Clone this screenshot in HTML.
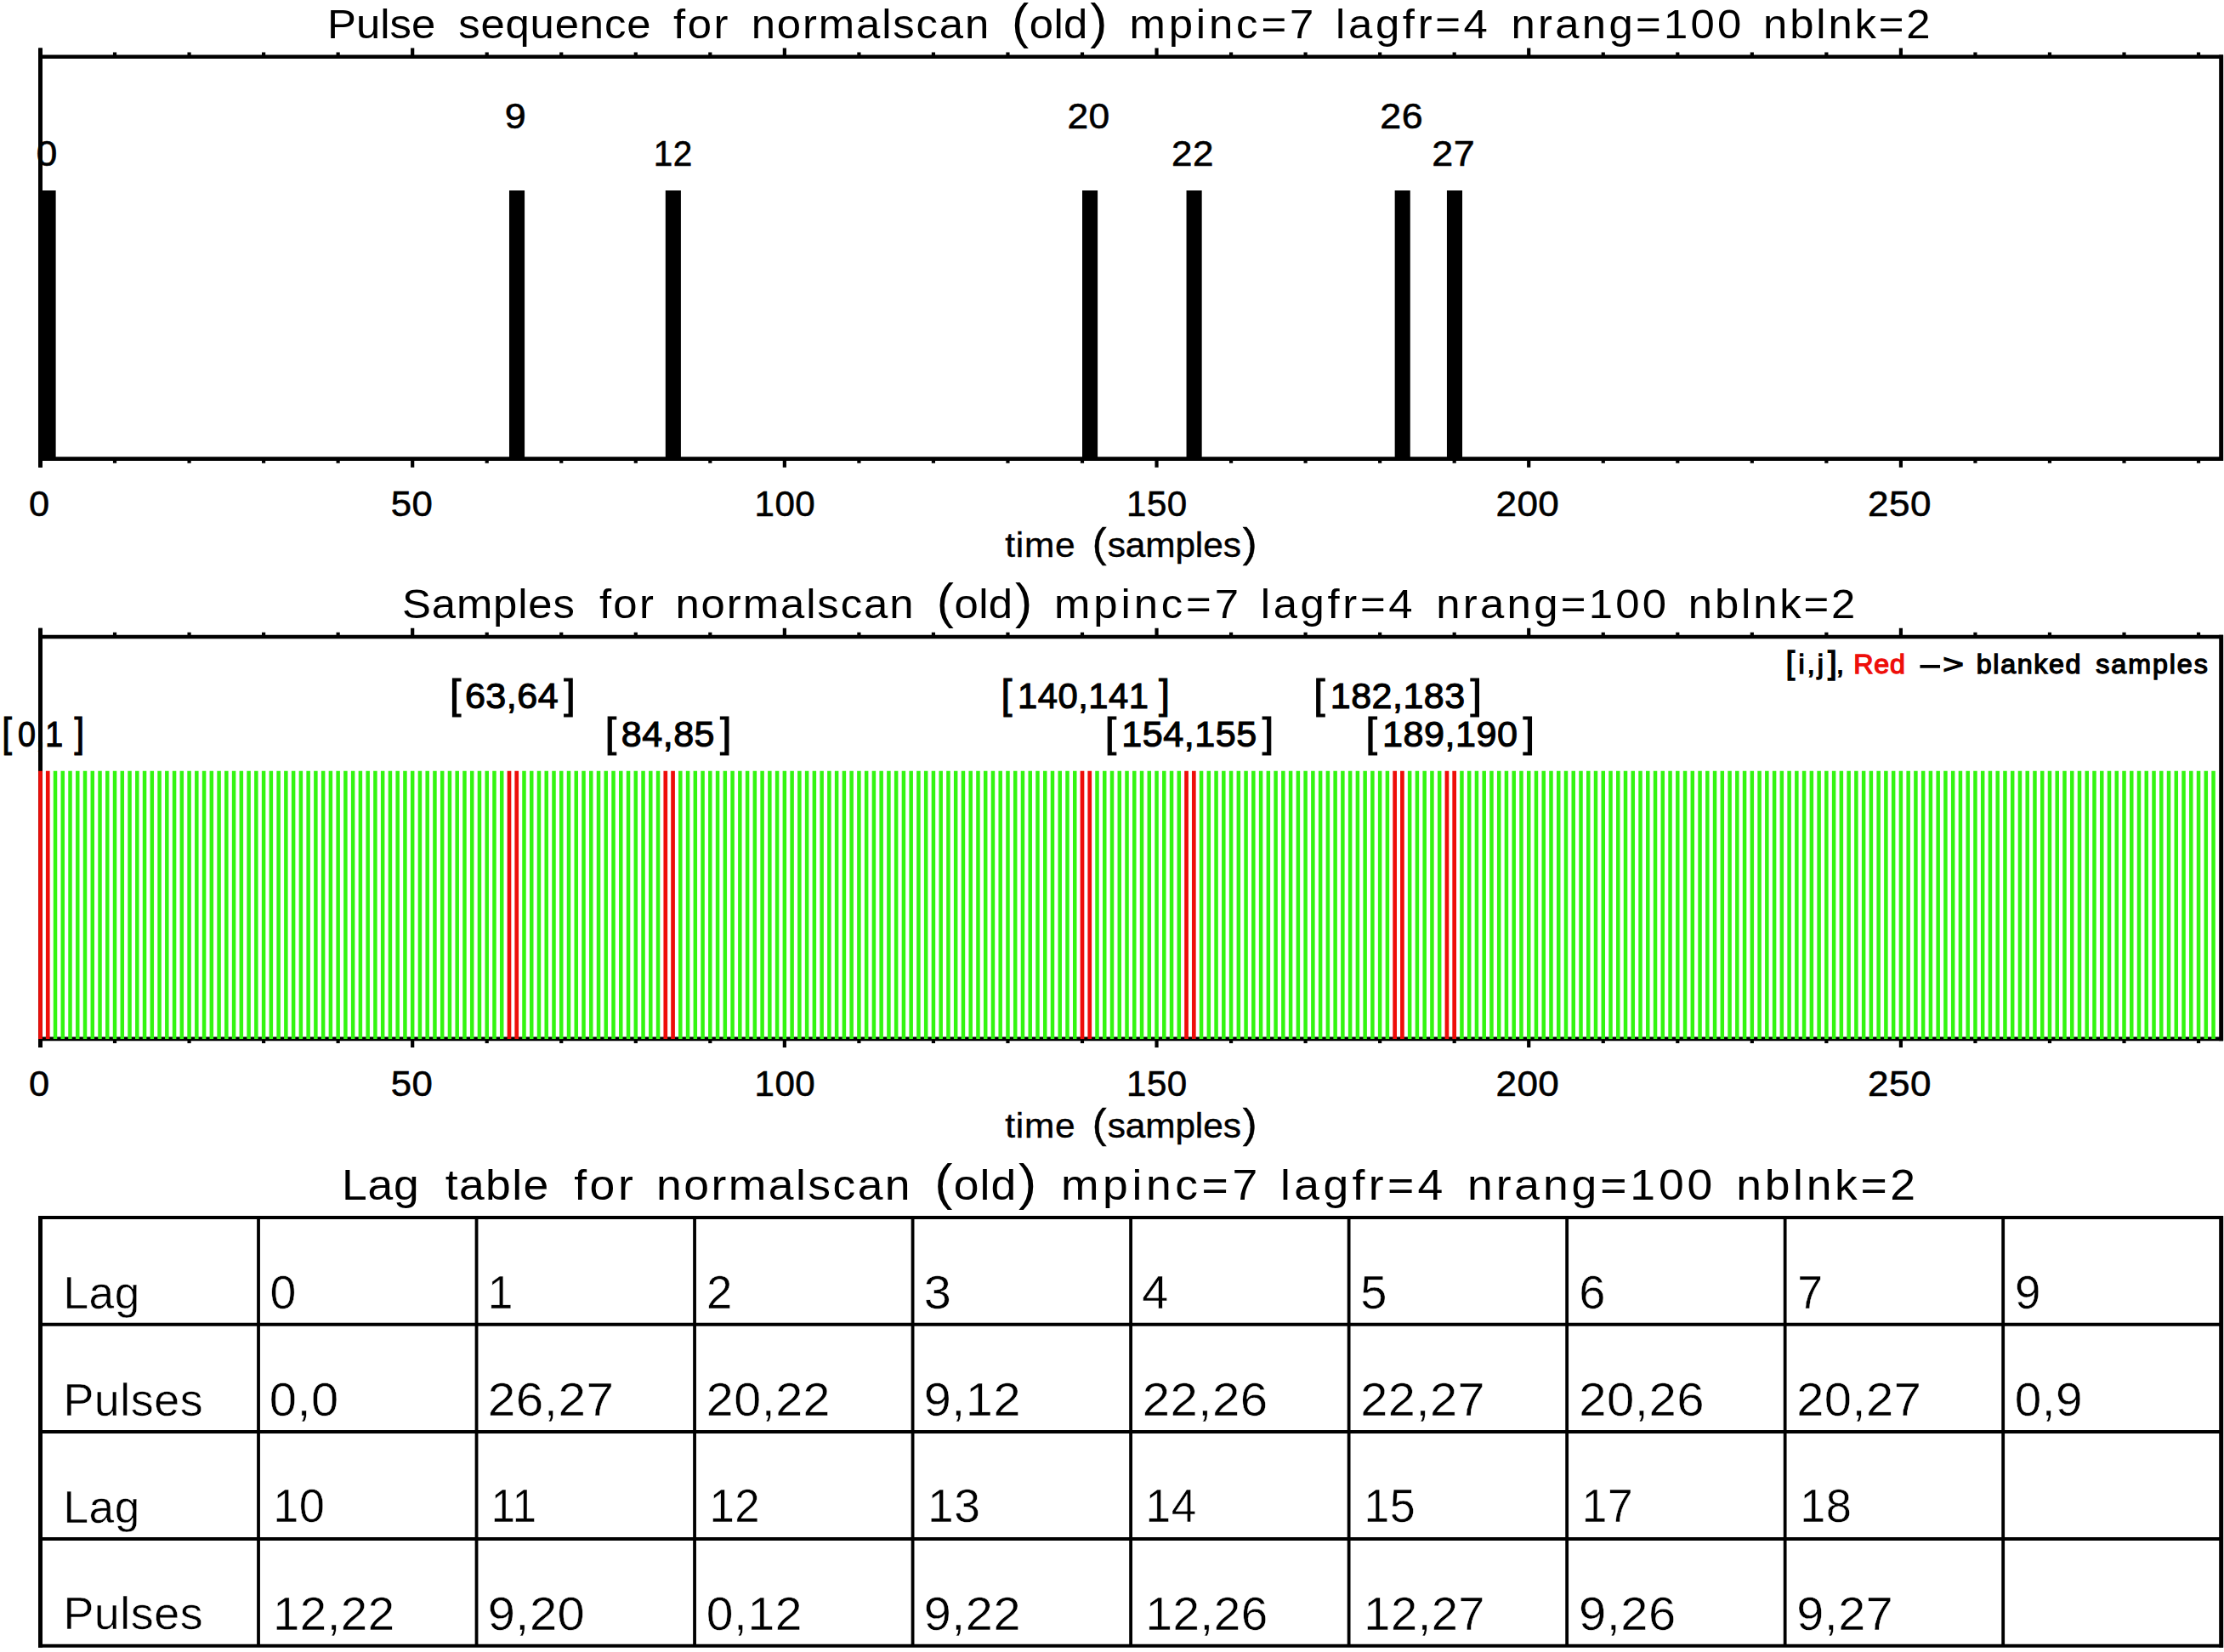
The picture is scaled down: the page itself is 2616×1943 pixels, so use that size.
<!DOCTYPE html>
<html lang="en">
<head>
<meta charset="utf-8">
<title>Pulse sequence, samples and lag table for normalscan (old)</title>
<style>
html,body{margin:0;padding:0;background:#fff;}
body{width:2616px;height:1943px;overflow:hidden;font-family:"Liberation Sans", sans-serif;}
svg{display:block;}
text{white-space:pre;}
</style>
</head>
<body>
<svg width="2616" height="1943" viewBox="0 0 2616 1943">
<rect width="2616" height="1943" fill="#fff"/>
<g stroke="#000" fill="none">
<path d="M45 66.75H2615M45 539.6H2615" stroke-width="4.6"/>
<path d="M47.5 56.55V549.8M2612.7 64.45V541.9" stroke-width="5"/>
<path d="M47.5 66.75v-10.2M47.5 539.6v10.2M135.04 66.75v-5.2M135.04 539.6v5.2M222.57 66.75v-5.2M222.57 539.6v5.2M310.11 66.75v-5.2M310.11 539.6v5.2M397.64 66.75v-5.2M397.64 539.6v5.2M485.18 66.75v-10.2M485.18 539.6v10.2M572.72 66.75v-5.2M572.72 539.6v5.2M660.25 66.75v-5.2M660.25 539.6v5.2M747.79 66.75v-5.2M747.79 539.6v5.2M835.32 66.75v-5.2M835.32 539.6v5.2M922.86 66.75v-10.2M922.86 539.6v10.2M1010.4 66.75v-5.2M1010.4 539.6v5.2M1097.93 66.75v-5.2M1097.93 539.6v5.2M1185.47 66.75v-5.2M1185.47 539.6v5.2M1273 66.75v-5.2M1273 539.6v5.2M1360.54 66.75v-10.2M1360.54 539.6v10.2M1448.08 66.75v-5.2M1448.08 539.6v5.2M1535.61 66.75v-5.2M1535.61 539.6v5.2M1623.15 66.75v-5.2M1623.15 539.6v5.2M1710.68 66.75v-5.2M1710.68 539.6v5.2M1798.22 66.75v-10.2M1798.22 539.6v10.2M1885.76 66.75v-5.2M1885.76 539.6v5.2M1973.29 66.75v-5.2M1973.29 539.6v5.2M2060.83 66.75v-5.2M2060.83 539.6v5.2M2148.36 66.75v-5.2M2148.36 539.6v5.2M2235.9 66.75v-10.2M2235.9 539.6v10.2M2323.44 66.75v-5.2M2323.44 539.6v5.2M2410.97 66.75v-5.2M2410.97 539.6v5.2M2498.51 66.75v-5.2M2498.51 539.6v5.2M2586.04 66.75v-5.2M2586.04 539.6v5.2" stroke-width="4.2"/>
<path d="M45 749.05H2615M45 1221.9H2615" stroke-width="4.6"/>
<path d="M47.5 738.85V1232.1M2612.7 746.75V1224.2" stroke-width="5"/>
<path d="M47.5 749.05v-10.2M47.5 1221.9v10.2M135.04 749.05v-5.2M135.04 1221.9v5.2M222.57 749.05v-5.2M222.57 1221.9v5.2M310.11 749.05v-5.2M310.11 1221.9v5.2M397.64 749.05v-5.2M397.64 1221.9v5.2M485.18 749.05v-10.2M485.18 1221.9v10.2M572.72 749.05v-5.2M572.72 1221.9v5.2M660.25 749.05v-5.2M660.25 1221.9v5.2M747.79 749.05v-5.2M747.79 1221.9v5.2M835.32 749.05v-5.2M835.32 1221.9v5.2M922.86 749.05v-10.2M922.86 1221.9v10.2M1010.4 749.05v-5.2M1010.4 1221.9v5.2M1097.93 749.05v-5.2M1097.93 1221.9v5.2M1185.47 749.05v-5.2M1185.47 1221.9v5.2M1273 749.05v-5.2M1273 1221.9v5.2M1360.54 749.05v-10.2M1360.54 1221.9v10.2M1448.08 749.05v-5.2M1448.08 1221.9v5.2M1535.61 749.05v-5.2M1535.61 1221.9v5.2M1623.15 749.05v-5.2M1623.15 1221.9v5.2M1710.68 749.05v-5.2M1710.68 1221.9v5.2M1798.22 749.05v-10.2M1798.22 1221.9v10.2M1885.76 749.05v-5.2M1885.76 1221.9v5.2M1973.29 749.05v-5.2M1973.29 1221.9v5.2M2060.83 749.05v-5.2M2060.83 1221.9v5.2M2148.36 749.05v-5.2M2148.36 1221.9v5.2M2235.9 749.05v-10.2M2235.9 1221.9v10.2M2323.44 749.05v-5.2M2323.44 1221.9v5.2M2410.97 749.05v-5.2M2410.97 1221.9v5.2M2498.51 749.05v-5.2M2498.51 1221.9v5.2M2586.04 749.05v-5.2M2586.04 1221.9v5.2" stroke-width="4.2"/>
</g>
<path d="M45 224.1H65.61V539.6H45ZM598.98 224.1H617.08V539.6H598.98ZM782.8 224.1H800.91V539.6H782.8ZM1273 224.1H1291.11V539.6H1273ZM1395.55 224.1H1413.66V539.6H1395.55ZM1640.66 224.1H1658.76V539.6H1640.66ZM1701.93 224.1H1720.04V539.6H1701.93Z" fill="#000"/>
<path d="M65.01 906.8V1221.9M73.76 906.8V1221.9M82.51 906.8V1221.9M91.27 906.8V1221.9M100.02 906.8V1221.9M108.78 906.8V1221.9M117.53 906.8V1221.9M126.28 906.8V1221.9M135.04 906.8V1221.9M143.79 906.8V1221.9M152.54 906.8V1221.9M161.3 906.8V1221.9M170.05 906.8V1221.9M178.8 906.8V1221.9M187.56 906.8V1221.9M196.31 906.8V1221.9M205.06 906.8V1221.9M213.82 906.8V1221.9M222.57 906.8V1221.9M231.33 906.8V1221.9M240.08 906.8V1221.9M248.83 906.8V1221.9M257.59 906.8V1221.9M266.34 906.8V1221.9M275.09 906.8V1221.9M283.85 906.8V1221.9M292.6 906.8V1221.9M301.35 906.8V1221.9M310.11 906.8V1221.9M318.86 906.8V1221.9M327.62 906.8V1221.9M336.37 906.8V1221.9M345.12 906.8V1221.9M353.88 906.8V1221.9M362.63 906.8V1221.9M371.38 906.8V1221.9M380.14 906.8V1221.9M388.89 906.8V1221.9M397.64 906.8V1221.9M406.4 906.8V1221.9M415.15 906.8V1221.9M423.9 906.8V1221.9M432.66 906.8V1221.9M441.41 906.8V1221.9M450.17 906.8V1221.9M458.92 906.8V1221.9M467.67 906.8V1221.9M476.43 906.8V1221.9M485.18 906.8V1221.9M493.93 906.8V1221.9M502.69 906.8V1221.9M511.44 906.8V1221.9M520.19 906.8V1221.9M528.95 906.8V1221.9M537.7 906.8V1221.9M546.46 906.8V1221.9M555.21 906.8V1221.9M563.96 906.8V1221.9M572.72 906.8V1221.9M581.47 906.8V1221.9M590.22 906.8V1221.9M616.48 906.8V1221.9M625.24 906.8V1221.9M633.99 906.8V1221.9M642.74 906.8V1221.9M651.5 906.8V1221.9M660.25 906.8V1221.9M669.01 906.8V1221.9M677.76 906.8V1221.9M686.51 906.8V1221.9M695.27 906.8V1221.9M704.02 906.8V1221.9M712.77 906.8V1221.9M721.53 906.8V1221.9M730.28 906.8V1221.9M739.03 906.8V1221.9M747.79 906.8V1221.9M756.54 906.8V1221.9M765.3 906.8V1221.9M774.05 906.8V1221.9M800.31 906.8V1221.9M809.06 906.8V1221.9M817.82 906.8V1221.9M826.57 906.8V1221.9M835.32 906.8V1221.9M844.08 906.8V1221.9M852.83 906.8V1221.9M861.58 906.8V1221.9M870.34 906.8V1221.9M879.09 906.8V1221.9M887.85 906.8V1221.9M896.6 906.8V1221.9M905.35 906.8V1221.9M914.11 906.8V1221.9M922.86 906.8V1221.9M931.61 906.8V1221.9M940.37 906.8V1221.9M949.12 906.8V1221.9M957.87 906.8V1221.9M966.63 906.8V1221.9M975.38 906.8V1221.9M984.14 906.8V1221.9M992.89 906.8V1221.9M1001.64 906.8V1221.9M1010.4 906.8V1221.9M1019.15 906.8V1221.9M1027.9 906.8V1221.9M1036.66 906.8V1221.9M1045.41 906.8V1221.9M1054.16 906.8V1221.9M1062.92 906.8V1221.9M1071.67 906.8V1221.9M1080.42 906.8V1221.9M1089.18 906.8V1221.9M1097.93 906.8V1221.9M1106.69 906.8V1221.9M1115.44 906.8V1221.9M1124.19 906.8V1221.9M1132.95 906.8V1221.9M1141.7 906.8V1221.9M1150.45 906.8V1221.9M1159.21 906.8V1221.9M1167.96 906.8V1221.9M1176.71 906.8V1221.9M1185.47 906.8V1221.9M1194.22 906.8V1221.9M1202.98 906.8V1221.9M1211.73 906.8V1221.9M1220.48 906.8V1221.9M1229.24 906.8V1221.9M1237.99 906.8V1221.9M1246.74 906.8V1221.9M1255.5 906.8V1221.9M1264.25 906.8V1221.9M1290.51 906.8V1221.9M1299.26 906.8V1221.9M1308.02 906.8V1221.9M1316.77 906.8V1221.9M1325.53 906.8V1221.9M1334.28 906.8V1221.9M1343.03 906.8V1221.9M1351.79 906.8V1221.9M1360.54 906.8V1221.9M1369.29 906.8V1221.9M1378.05 906.8V1221.9M1386.8 906.8V1221.9M1413.06 906.8V1221.9M1421.82 906.8V1221.9M1430.57 906.8V1221.9M1439.32 906.8V1221.9M1448.08 906.8V1221.9M1456.83 906.8V1221.9M1465.58 906.8V1221.9M1474.34 906.8V1221.9M1483.09 906.8V1221.9M1491.84 906.8V1221.9M1500.6 906.8V1221.9M1509.35 906.8V1221.9M1518.1 906.8V1221.9M1526.86 906.8V1221.9M1535.61 906.8V1221.9M1544.37 906.8V1221.9M1553.12 906.8V1221.9M1561.87 906.8V1221.9M1570.63 906.8V1221.9M1579.38 906.8V1221.9M1588.13 906.8V1221.9M1596.89 906.8V1221.9M1605.64 906.8V1221.9M1614.39 906.8V1221.9M1623.15 906.8V1221.9M1631.9 906.8V1221.9M1658.16 906.8V1221.9M1666.92 906.8V1221.9M1675.67 906.8V1221.9M1684.42 906.8V1221.9M1693.18 906.8V1221.9M1719.44 906.8V1221.9M1728.19 906.8V1221.9M1736.94 906.8V1221.9M1745.7 906.8V1221.9M1754.45 906.8V1221.9M1763.21 906.8V1221.9M1771.96 906.8V1221.9M1780.71 906.8V1221.9M1789.47 906.8V1221.9M1798.22 906.8V1221.9M1806.97 906.8V1221.9M1815.73 906.8V1221.9M1824.48 906.8V1221.9M1833.23 906.8V1221.9M1841.99 906.8V1221.9M1850.74 906.8V1221.9M1859.5 906.8V1221.9M1868.25 906.8V1221.9M1877 906.8V1221.9M1885.76 906.8V1221.9M1894.51 906.8V1221.9M1903.26 906.8V1221.9M1912.02 906.8V1221.9M1920.77 906.8V1221.9M1929.52 906.8V1221.9M1938.28 906.8V1221.9M1947.03 906.8V1221.9M1955.78 906.8V1221.9M1964.54 906.8V1221.9M1973.29 906.8V1221.9M1982.05 906.8V1221.9M1990.8 906.8V1221.9M1999.55 906.8V1221.9M2008.31 906.8V1221.9M2017.06 906.8V1221.9M2025.81 906.8V1221.9M2034.57 906.8V1221.9M2043.32 906.8V1221.9M2052.07 906.8V1221.9M2060.83 906.8V1221.9M2069.58 906.8V1221.9M2078.34 906.8V1221.9M2087.09 906.8V1221.9M2095.84 906.8V1221.9M2104.6 906.8V1221.9M2113.35 906.8V1221.9M2122.1 906.8V1221.9M2130.86 906.8V1221.9M2139.61 906.8V1221.9M2148.36 906.8V1221.9M2157.12 906.8V1221.9M2165.87 906.8V1221.9M2174.62 906.8V1221.9M2183.38 906.8V1221.9M2192.13 906.8V1221.9M2200.89 906.8V1221.9M2209.64 906.8V1221.9M2218.39 906.8V1221.9M2227.15 906.8V1221.9M2235.9 906.8V1221.9M2244.65 906.8V1221.9M2253.41 906.8V1221.9M2262.16 906.8V1221.9M2270.91 906.8V1221.9M2279.67 906.8V1221.9M2288.42 906.8V1221.9M2297.18 906.8V1221.9M2305.93 906.8V1221.9M2314.68 906.8V1221.9M2323.44 906.8V1221.9M2332.19 906.8V1221.9M2340.94 906.8V1221.9M2349.7 906.8V1221.9M2358.45 906.8V1221.9M2367.2 906.8V1221.9M2375.96 906.8V1221.9M2384.71 906.8V1221.9M2393.46 906.8V1221.9M2402.22 906.8V1221.9M2410.97 906.8V1221.9M2419.73 906.8V1221.9M2428.48 906.8V1221.9M2437.23 906.8V1221.9M2445.99 906.8V1221.9M2454.74 906.8V1221.9M2463.49 906.8V1221.9M2472.25 906.8V1221.9M2481 906.8V1221.9M2489.75 906.8V1221.9M2498.51 906.8V1221.9M2507.26 906.8V1221.9M2516.02 906.8V1221.9M2524.77 906.8V1221.9M2533.52 906.8V1221.9M2542.28 906.8V1221.9M2551.03 906.8V1221.9M2559.78 906.8V1221.9M2568.54 906.8V1221.9M2577.29 906.8V1221.9M2586.04 906.8V1221.9M2594.8 906.8V1221.9M2603.55 906.8V1221.9" stroke="#33f511" stroke-width="4.5" fill="none"/>
<path d="M47.5 906.8V1221.9M56.25 906.8V1221.9M598.98 906.8V1221.9M607.73 906.8V1221.9M782.8 906.8V1221.9M791.56 906.8V1221.9M1273 906.8V1221.9M1281.76 906.8V1221.9M1395.55 906.8V1221.9M1404.31 906.8V1221.9M1640.66 906.8V1221.9M1649.41 906.8V1221.9M1701.93 906.8V1221.9M1710.68 906.8V1221.9" stroke="#ee0e0a" stroke-width="4.7" fill="none"/>
<path d="M45 1432H2615M45 1557.8H2615M45 1684H2615M45 1810H2615M45 1935.8H2615" stroke="#000" stroke-width="4.1" fill="none"/>
<path d="M304.02 1432V1935.8M560.54 1432V1935.8M817.06 1432V1935.8M1073.58 1432V1935.8M1330.1 1432V1935.8M1586.62 1432V1935.8M1843.14 1432V1935.8M2099.66 1432V1935.8M2356.18 1432V1935.8" stroke="#000" stroke-width="3.8" fill="none"/>
<path d="M47.5 1430V1937.8M2612.7 1430V1937.8" stroke="#000" stroke-width="5" fill="none"/>
<g font-family='"Liberation Sans", sans-serif' fill="#000">
<text font-size="48" y="45.3" transform="scale(1.06,1)"><tspan x="363.23" letter-spacing="0.02">Pulse </tspan><tspan x="508.62" letter-spacing="0.77">sequence </tspan><tspan x="747.26" letter-spacing="2.31">for </tspan><tspan x="833.7" letter-spacing="1.74">normalscan </tspan><tspan font-size="57.12" x="1122.66">(</tspan><tspan x="1142.34" letter-spacing="0.27">old</tspan><tspan font-size="57.12" x="1209.75">) </tspan><tspan x="1253.23" letter-spacing="3.64">mpinc=7 </tspan><tspan x="1482.09" letter-spacing="3.45">lagfr=4 </tspan><tspan x="1676.91" letter-spacing="3.09">nrang=100 </tspan><tspan x="1956.72" letter-spacing="2.65">nblnk=2</tspan></text>
<text font-size="48" y="726.8" transform="scale(1.06,1)"><tspan x="446.3" letter-spacing="0.76">Samples </tspan><tspan x="665" letter-spacing="2.17">for </tspan><tspan x="749.45" letter-spacing="1.8">normalscan </tspan><tspan font-size="57.12" x="1039.36">(</tspan><tspan x="1059.04" letter-spacing="0.27">old</tspan><tspan font-size="57.12" x="1126.45">) </tspan><tspan x="1169.92" letter-spacing="3.64">mpinc=7 </tspan><tspan x="1398.79" letter-spacing="3.45">lagfr=4 </tspan><tspan x="1593.6" letter-spacing="3.09">nrang=100 </tspan><tspan x="1873.42" letter-spacing="2.65">nblnk=2</tspan></text>
<text font-size="50.5" y="1411" transform="scale(1.06,1)"><tspan x="379.3" letter-spacing="0.71">Lag </tspan><tspan x="494.15" letter-spacing="1.26">table </tspan><tspan x="636.98" letter-spacing="3.35">for </tspan><tspan x="728.32" letter-spacing="2.31">normalscan </tspan><tspan font-size="60.09" x="1037.09">(</tspan><tspan x="1058.19" letter-spacing="1.06">old</tspan><tspan font-size="60.09" x="1130.08">) </tspan><tspan x="1177.28" letter-spacing="4.33">mpinc=7 </tspan><tspan x="1420.77" letter-spacing="4.13">lagfr=4 </tspan><tspan x="1628.32" letter-spacing="3.65">nrang=100 </tspan><tspan x="1926.72" letter-spacing="3.43">nblnk=2</tspan></text>
<text font-size="43" y="607.5" stroke="#000" stroke-width="0.6" transform="scale(1.0091,1)" x="33.68">0</text>
<text font-size="43" y="607.5" stroke="#000" stroke-width="0.6" transform="scale(1.0169,1)" x="452.03" letter-spacing="0.5">50</text>
<text font-size="43" y="607.5" stroke="#000" stroke-width="0.6" transform="scale(0.9792,1)" x="906.38" letter-spacing="0.5">100</text>
<text font-size="43" y="607.5" stroke="#000" stroke-width="0.6" transform="scale(0.9792,1)" x="1353.16" letter-spacing="0.5">150</text>
<text font-size="43" y="607.5" stroke="#000" stroke-width="0.6" transform="scale(1.0239,1)" x="1718.34" letter-spacing="0.5">200</text>
<text font-size="43" y="607.5" stroke="#000" stroke-width="0.6" transform="scale(1.0239,1)" x="2145.71" letter-spacing="0.5">250</text>
<text font-size="40" y="655" stroke="#000" stroke-width="0.4" transform="scale(1.06,1)"><tspan x="1115.38" letter-spacing="0.67">time </tspan><tspan font-size="47.6" x="1212.15">(</tspan><tspan x="1228.91" letter-spacing="-0.1">samples</tspan><tspan font-size="47.6" x="1378.98">)</tspan></text>
<text font-size="43" y="1289.3" stroke="#000" stroke-width="0.6" transform="scale(1.0091,1)" x="33.68">0</text>
<text font-size="43" y="1289.3" stroke="#000" stroke-width="0.6" transform="scale(1.0169,1)" x="452.03" letter-spacing="0.5">50</text>
<text font-size="43" y="1289.3" stroke="#000" stroke-width="0.6" transform="scale(0.9792,1)" x="906.38" letter-spacing="0.5">100</text>
<text font-size="43" y="1289.3" stroke="#000" stroke-width="0.6" transform="scale(0.9792,1)" x="1353.16" letter-spacing="0.5">150</text>
<text font-size="43" y="1289.3" stroke="#000" stroke-width="0.6" transform="scale(1.0239,1)" x="1718.34" letter-spacing="0.5">200</text>
<text font-size="43" y="1289.3" stroke="#000" stroke-width="0.6" transform="scale(1.0239,1)" x="2145.71" letter-spacing="0.5">250</text>
<text font-size="40" y="1337.6" stroke="#000" stroke-width="0.4" transform="scale(1.06,1)"><tspan x="1115.38" letter-spacing="0.67">time </tspan><tspan font-size="47.6" x="1212.15">(</tspan><tspan x="1228.91" letter-spacing="-0.1">samples</tspan><tspan font-size="47.6" x="1378.98">)</tspan></text>
<text font-size="43" y="150.8" stroke="#000" stroke-width="0.6" transform="scale(1.045,1)" x="568.14">9</text>
<text font-size="43" y="150.8" stroke="#000" stroke-width="0.6" transform="scale(1.0327,1)" x="1215.67" letter-spacing="0.5">20</text>
<text font-size="43" y="150.8" stroke="#000" stroke-width="0.6" transform="scale(1.0415,1)" x="1558.61" letter-spacing="0.5">26</text>
<text font-size="43" y="195" stroke="#000" stroke-width="0.6" transform="scale(1.0273,1)" x="41.73">0</text>
<text font-size="43" y="195" stroke="#000" stroke-width="0.6" transform="scale(0.9421,1)" x="815.93" letter-spacing="0.5">12</text>
<text font-size="43" y="195" stroke="#000" stroke-width="0.6" transform="scale(1.0244,1)" x="1345.08" letter-spacing="0.5">22</text>
<text font-size="43" y="195" stroke="#000" stroke-width="0.6" transform="scale(1.0447,1)" x="1612.24" letter-spacing="0.5">27</text>
<text font-size="43" y="833.5" stroke="#000" stroke-width="1.1" transform="scale(1.0029,1)"><tspan font-size="48.16" x="527.46">[</tspan><tspan x="545.31" letter-spacing="0.5">63,64</tspan><tspan font-size="48.16" x="661.25">]</tspan></text>
<text font-size="43" y="833.5" stroke="#000" stroke-width="1.1" transform="scale(0.9712,1)"><tspan font-size="48.16" x="1212.49">[</tspan><tspan x="1232.57" letter-spacing="0.5">140,141</tspan><tspan font-size="48.16" x="1403.49">]</tspan></text>
<text font-size="43" y="833.5" stroke="#000" stroke-width="1.1" transform="scale(0.9999,1)"><tspan font-size="48.16" x="1545.4">[</tspan><tspan x="1564.9" letter-spacing="0.5">182,183</tspan><tspan font-size="48.16" x="1729.72">]</tspan></text>
<text font-size="43" y="877.8" stroke="#000" stroke-width="1.1" transform="scale(0.8762,1)"><tspan font-size="48.16" x="2.59">[</tspan><tspan x="23.88" letter-spacing="0.5">0,1</tspan><tspan font-size="48.16" x="99.79">]</tspan></text>
<text font-size="43" y="877.8" stroke="#000" stroke-width="1.1" transform="scale(1.0019,1)"><tspan font-size="48.16" x="710.51">[</tspan><tspan x="729.38" letter-spacing="0.5">84,85</tspan><tspan font-size="48.16" x="845.34">]</tspan></text>
<text font-size="43" y="877.8" stroke="#000" stroke-width="1.1" transform="scale(1.0044,1)"><tspan font-size="48.16" x="1293.99">[</tspan><tspan x="1313.4" letter-spacing="0.5">154,155</tspan><tspan font-size="48.16" x="1478.15">]</tspan></text>
<text font-size="43" y="877.8" stroke="#000" stroke-width="1.1" transform="scale(1.0044,1)"><tspan font-size="48.16" x="1599.44">[</tspan><tspan x="1618.86" letter-spacing="0.5">189,190</tspan><tspan font-size="48.16" x="1783.6">]</tspan></text>
<text font-size="31" y="792.5" stroke="#000" stroke-width="1.3" transform="scale(1.04,1)"><tspan font-size="37.2" x="2019.83">[</tspan><tspan x="2034.15" letter-spacing="2.91">i,j</tspan><tspan font-size="37.2" x="2067.19">]</tspan><tspan x="2076.85">, </tspan><tspan x="2096.37" letter-spacing="0.73" fill="#ee0e0a" stroke="#ee0e0a">Red </tspan></text>
<text font-size="31" y="792.5" stroke="#000" stroke-width="1.3" transform="scale(2.6625,1)" x="847.53">-</text>
<text font-size="31" y="792.5" stroke="#000" stroke-width="1.3" transform="scale(1.3625,1)" x="1677.17">&gt; </text>
<text font-size="31" y="792.5" stroke="#000" stroke-width="1.3" transform="scale(1.04,1)"><tspan x="2235.4" letter-spacing="1.58">blanked </tspan><tspan x="2370.48" letter-spacing="1.85">samples</tspan></text>
<text font-size="54" y="1539.2" stroke="#fff" stroke-width="0.5" transform="scale(0.9861,1)" x="75.5" letter-spacing="0.5">Lag</text>
<text font-size="56.3" y="1538.8" stroke="#fff" stroke-width="0.5" transform="scale(0.9857,1)" x="322.23">0</text>
<text font-size="56.3" y="1538.8" stroke="#fff" stroke-width="0.5" transform="scale(0.95,1)" x="603.87">1</text>
<text font-size="56.3" y="1538.8" stroke="#fff" stroke-width="0.5" transform="scale(0.9704,1)" x="856.33">2</text>
<text font-size="56.3" y="1538.8" stroke="#fff" stroke-width="0.5" transform="scale(1.0259,1)" x="1059.29">3</text>
<text font-size="56.3" y="1538.8" stroke="#fff" stroke-width="0.5" transform="scale(0.9931,1)" x="1352.53">4</text>
<text font-size="56.3" y="1538.8" stroke="#fff" stroke-width="0.5" transform="scale(0.9963,1)" x="1606.16">5</text>
<text font-size="56.3" y="1538.8" stroke="#fff" stroke-width="0.5" transform="scale(0.9963,1)" x="1864.11">6</text>
<text font-size="56.3" y="1538.8" stroke="#fff" stroke-width="0.5" transform="scale(0.95,1)" x="2225.5">7</text>
<text font-size="56.3" y="1538.8" stroke="#fff" stroke-width="0.5" transform="scale(0.9704,1)" x="2442.22">9</text>
<text font-size="54" y="1664.8" stroke="#fff" stroke-width="0.5" transform="scale(0.9976,1)" x="74.59" letter-spacing="0.5">Pulses</text>
<text font-size="56.3" y="1665.2" stroke="#fff" stroke-width="0.5" transform="scale(1.0283,1)" x="308.03" letter-spacing="0.5">0,0</text>
<text font-size="56.3" y="1665.2" stroke="#fff" stroke-width="0.5" transform="scale(1.0385,1)" x="552.38" letter-spacing="0.5">26,27</text>
<text font-size="56.3" y="1665.2" stroke="#fff" stroke-width="0.5" transform="scale(1.0197,1)" x="814.81" letter-spacing="0.5">20,22</text>
<text font-size="56.3" y="1665.2" stroke="#fff" stroke-width="0.5" transform="scale(1.0247,1)" x="1060.53" letter-spacing="0.5">9,12</text>
<text font-size="56.3" y="1665.2" stroke="#fff" stroke-width="0.5" transform="scale(1.0327,1)" x="1301.1" letter-spacing="0.5">22,26</text>
<text font-size="56.3" y="1665.2" stroke="#fff" stroke-width="0.5" transform="scale(1.0248,1)" x="1561.5" letter-spacing="0.5">22,27</text>
<text font-size="56.3" y="1665.2" stroke="#fff" stroke-width="0.5" transform="scale(1.0327,1)" x="1798.35" letter-spacing="0.5">20,26</text>
<text font-size="56.3" y="1665.2" stroke="#fff" stroke-width="0.5" transform="scale(1.0276,1)" x="2056.41" letter-spacing="0.5">20,27</text>
<text font-size="56.3" y="1665.2" stroke="#fff" stroke-width="0.5" transform="scale(1.0073,1)" x="2352.54" letter-spacing="0.5">0,9</text>
<text font-size="54" y="1790.9" stroke="#fff" stroke-width="0.5" transform="scale(0.9861,1)" x="75.5" letter-spacing="0.5">Lag</text>
<text font-size="56.3" y="1790.5" stroke="#fff" stroke-width="0.5" transform="scale(0.9635,1)" x="333.31" letter-spacing="0.5">10</text>
<text font-size="56.3" y="1790.5" stroke="#fff" stroke-width="0.5" transform="scale(0.9025,1)" x="640.21" letter-spacing="0.5">11</text>
<text font-size="56.3" y="1790.5" stroke="#fff" stroke-width="0.5" transform="scale(0.9365,1)" x="891.18" letter-spacing="0.5">12</text>
<text font-size="56.3" y="1790.5" stroke="#fff" stroke-width="0.5" transform="scale(0.9805,1)" x="1112.81" letter-spacing="0.5">13</text>
<text font-size="56.3" y="1790.5" stroke="#fff" stroke-width="0.5" transform="scale(0.9462,1)" x="1424.23" letter-spacing="0.5">14</text>
<text font-size="56.3" y="1790.5" stroke="#fff" stroke-width="0.5" transform="scale(0.9558,1)" x="1678.63" letter-spacing="0.5">15</text>
<text font-size="56.3" y="1790.5" stroke="#fff" stroke-width="0.5" transform="scale(0.9488,1)" x="1961.26" letter-spacing="0.5">17</text>
<text font-size="56.3" y="1790.5" stroke="#fff" stroke-width="0.5" transform="scale(0.9629,1)" x="2198.8" letter-spacing="0.5">18</text>
<text font-size="54" y="1916.4" stroke="#fff" stroke-width="0.5" transform="scale(0.9976,1)" x="74.59" letter-spacing="0.5">Pulses</text>
<text font-size="56.3" y="1916.6" stroke="#fff" stroke-width="0.5" transform="scale(1.001,1)" x="320.69" letter-spacing="0.5">12,22</text>
<text font-size="56.3" y="1916.6" stroke="#fff" stroke-width="0.5" transform="scale(1.0282,1)" x="557.91" letter-spacing="0.5">9,20</text>
<text font-size="56.3" y="1916.6" stroke="#fff" stroke-width="0.5" transform="scale(1.0144,1)" x="819.06" letter-spacing="0.5">0,12</text>
<text font-size="56.3" y="1916.6" stroke="#fff" stroke-width="0.5" transform="scale(1.0247,1)" x="1060.53" letter-spacing="0.5">9,22</text>
<text font-size="56.3" y="1916.6" stroke="#fff" stroke-width="0.5" transform="scale(1.0061,1)" x="1339.24" letter-spacing="0.5">12,26</text>
<text font-size="56.3" y="1916.6" stroke="#fff" stroke-width="0.5" transform="scale(0.9951,1)" x="1612.23" letter-spacing="0.5">12,27</text>
<text font-size="56.3" y="1916.6" stroke="#fff" stroke-width="0.5" transform="scale(1.0275,1)" x="1807.38" letter-spacing="0.5">9,26</text>
<text font-size="56.3" y="1916.6" stroke="#fff" stroke-width="0.5" transform="scale(1.021,1)" x="2069.84" letter-spacing="0.5">9,27</text>
</g>
</svg>
</body>
</html>
